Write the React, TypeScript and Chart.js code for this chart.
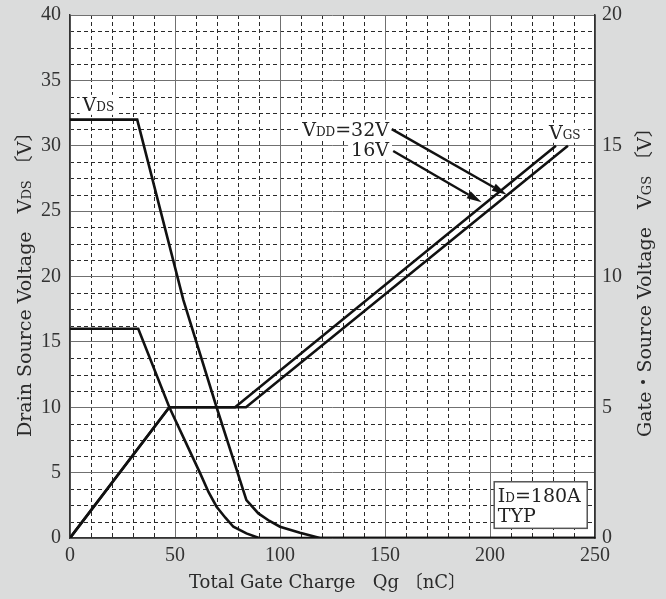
import React, { useEffect, useRef } from "react";
import { Chart, registerables } from "chart.js";
Chart.register(...registerables);

// ---- axes ----
const X_MIN = 0, X_MAX = 250, X_STEP = 50, X_MINOR = 10;
const Y_MIN = 0, Y_MAX = 40, Y_STEP = 5, Y_MINOR = 1.25;
const Y2_MIN = 0, Y2_MAX = 20, Y2_STEP = 5;

// ---- series (Qg in nC) ----
const qVds32 = [0, 32, 54, 69.8, 84, 89.7, 95, 100, 109.5, 119, 250];
const vVds32 = [32, 32, 18.2, 10, 2.9, 1.88, 1.3, 0.86, 0.4, 0, 0];
const qVds16 = [0, 32.5, 47.3, 55, 62, 66, 69.8, 74, 77.8, 84, 90, 250];
const vVds16 = [16, 16, 10, 7.35, 4.94, 3.5, 2.39, 1.55, 0.86, 0.35, 0, 0];
const qVgs16 = [0, 47.3, 78.6, 231.4];
const vVgs16 = [0, 5, 5, 15];
const qVgs32 = [0, 47.3, 83.8, 237.1];
const vVgs32 = [0, 5, 5, 15];

// ---- annotations (data units on left axis) ----
const labelVds = { q: 6, v: 32.67 };
const labelVgs = { q: 228.1, v: 30.53 };
const labelVdd32 = { q: 151.9, v: 30.76 };
const labelVdd16 = { q: 151.9, v: 29.24 };
const arrow32 = { q0: 153.2, v0: 31.27, q1: 208, v1: 26.26 };
const arrow16 = { q0: 153.9, v0: 29.6, q1: 196, v1: 25.67 };
const condBox = { q0: 202, v0: 4.3, q1: 246.3, v1: 0.74 };
const condLine1 = { q: 203.7, v: 2.72 };
const condLine2 = { q: 203.7, v: 1.24 };

const SERIF = '"DejaVu Serif", "Noto Sans CJK JP", serif';
const BIG = `19px ${SERIF}`;
const SMALL = `12px ${SERIF}`;

type Run = { t: string; f: string };

function runsWidth(ctx: CanvasRenderingContext2D, runs: Run[]) {
  let w = 0;
  for (const r of runs) { ctx.font = r.f; w += ctx.measureText(r.t).width; }
  return w;
}
function drawRuns(ctx: CanvasRenderingContext2D, runs: Run[], x: number, y: number) {
  let cx = x;
  for (const r of runs) {
    ctx.font = r.f;
    ctx.fillText(r.t, cx, y);
    cx += ctx.measureText(r.t).width;
  }
}

const bgPlugin = {
  id: "bgPlugin",
  beforeDraw(chart: any) {
    const { ctx, chartArea: a, scales } = chart;
    ctx.save();
    ctx.fillStyle = "#dbdcdc";
    ctx.fillRect(0, 0, chart.width, chart.height);
    ctx.fillStyle = "#ffffff";
    ctx.fillRect(a.left, a.top, a.right - a.left, a.bottom - a.top);
    ctx.strokeStyle = "#2a2a2a";
    ctx.lineWidth = 1;
    ctx.setLineDash([4, 3]);
    for (let v = X_MIN + X_MINOR; v < X_MAX; v += X_MINOR) {
      if (Math.abs(v / X_STEP - Math.round(v / X_STEP)) < 1e-6) continue;
      const p = Math.round(scales.x.getPixelForValue(v)) + 0.5;
      ctx.beginPath(); ctx.moveTo(p, a.top); ctx.lineTo(p, a.bottom); ctx.stroke();
    }
    for (let v = Y_MIN + Y_MINOR; v < Y_MAX; v += Y_MINOR) {
      if (Math.abs(v / Y_STEP - Math.round(v / Y_STEP)) < 1e-6) continue;
      const p = Math.round(scales.y.getPixelForValue(v)) + 0.5;
      ctx.beginPath(); ctx.moveTo(a.left, p); ctx.lineTo(a.right, p); ctx.stroke();
    }
    ctx.restore();
  },
};

const annoPlugin = {
  id: "annoPlugin",
  afterDatasetsDraw(chart: any) {
    const { ctx, scales } = chart;
    const X = (q: number) => scales.x.getPixelForValue(q);
    const Y = (v: number) => scales.y.getPixelForValue(v);
    ctx.save();
    ctx.textBaseline = "alphabetic";

    const label = (runs: Run[], x: number, y: number, right = false) => {
      const w = runsWidth(ctx, runs);
      const sx = right ? x - w : x;
      ctx.fillStyle = "#ffffff";
      ctx.fillRect(sx - 3, y - 16, w + 6, 20);
      ctx.fillStyle = "#222";
      drawRuns(ctx, runs, sx, y);
    };

    label([{ t: "V", f: BIG }, { t: "DS", f: SMALL }], X(labelVds.q), Y(labelVds.v));
    label([{ t: "V", f: BIG }, { t: "GS", f: SMALL }], X(labelVgs.q), Y(labelVgs.v));
    label([{ t: "V", f: BIG }, { t: "DD", f: SMALL }, { t: "=32V", f: BIG }], X(labelVdd32.q), Y(labelVdd32.v), true);
    label([{ t: "16V", f: BIG }], X(labelVdd16.q), Y(labelVdd16.v), true);

    const arrow = (a: any) => {
      const x0 = X(a.q0), y0 = Y(a.v0), x1 = X(a.q1), y1 = Y(a.v1);
      const ang = Math.atan2(y1 - y0, x1 - x0);
      const hl = 15, hw = 4;
      const bx = x1 - hl * Math.cos(ang), by = y1 - hl * Math.sin(ang);
      ctx.strokeStyle = "#111";
      ctx.lineWidth = 2.4;
      ctx.beginPath(); ctx.moveTo(x0, y0); ctx.lineTo(bx, by); ctx.stroke();
      ctx.fillStyle = "#111";
      ctx.beginPath();
      ctx.moveTo(x1, y1);
      ctx.lineTo(bx + hw * Math.sin(ang), by - hw * Math.cos(ang));
      ctx.lineTo(bx - hw * Math.sin(ang), by + hw * Math.cos(ang));
      ctx.closePath(); ctx.fill();
    };
    arrow(arrow32);
    arrow(arrow16);

    // condition box
    const bx0 = X(condBox.q0), by0 = Y(condBox.v0), bx1 = X(condBox.q1), by1 = Y(condBox.v1);
    ctx.fillStyle = "#ffffff";
    ctx.fillRect(bx0, by0, bx1 - bx0, by1 - by0);
    ctx.strokeStyle = "#555";
    ctx.lineWidth = 1.5;
    ctx.strokeRect(bx0, by0, bx1 - bx0, by1 - by0);
    ctx.fillStyle = "#222";
    drawRuns(ctx, [{ t: "I", f: BIG }, { t: "D", f: SMALL }, { t: "=180A", f: BIG }], X(condLine1.q), Y(condLine1.v));
    drawRuns(ctx, [{ t: "TYP", f: BIG }], X(condLine2.q), Y(condLine2.v));
    ctx.restore();
  },
  afterDraw(chart: any) {
    const { ctx, chartArea: a } = chart;
    ctx.save();
    ctx.fillStyle = "#2a2a2a";
    ctx.textBaseline = "alphabetic";
    const T = `18px ${SERIF}`;
    // bottom title
    const bottom: Run[] = [{ t: "Total Gate Charge", f: T }, { t: "   Qg ", f: T }, { t: "〔nC〕", f: T }];
    const bw = runsWidth(ctx, bottom);
    drawRuns(ctx, bottom, (a.left + a.right) / 2 - bw / 2 - 5, 588);
    // left title
    const TV = `19px ${SERIF}`;
    const TS = `13px ${SERIF}`;
    const left: Run[] = [{ t: "Drain Source Voltage   V", f: TV }, { t: "DS", f: TS }, { t: " 〔V〕", f: TV }];
    ctx.save();
    ctx.translate(31, 437);
    ctx.rotate(-Math.PI / 2);
    drawRuns(ctx, left, 0, 0);
    ctx.restore();
    const right: Run[] = [{ t: "Gate・Source Voltage   V", f: TV }, { t: "GS", f: TS }, { t: " 〔V〕", f: TV }];
    ctx.save();
    ctx.translate(651, 437);
    ctx.rotate(-Math.PI / 2);
    drawRuns(ctx, right, 0, 0);
    ctx.restore();
    ctx.restore();
  },
};

function pts(q: number[], v: number[]) {
  return q.map((x, i) => ({ x, y: v[i] }));
}

export default function App() {
  const ref = useRef<HTMLCanvasElement | null>(null);
  useEffect(() => {
    if (!ref.current) return;
    const line = { borderColor: "#111", borderWidth: 2.6, pointRadius: 0, fill: false, tension: 0 };
    const tickFont = { family: '"Liberation Serif", serif', size: 20 };
    const chart = new Chart(ref.current, {
      type: "line",
      data: {
        datasets: [
          { label: "VDS 32V", data: pts(qVds32, vVds32), yAxisID: "y", ...line },
          { label: "VDS 16V", data: pts(qVds16, vVds16), yAxisID: "y", ...line },
          { label: "VGS 16V", data: pts(qVgs16, vVgs16), yAxisID: "y2", ...line },
          { label: "VGS 32V", data: pts(qVgs32, vVgs32), yAxisID: "y2", ...line },
        ],
      },
      options: {
        animation: false,
        responsive: false,
        layout: { padding: { top: 15, left: 0, right: 0, bottom: 0 } },
        plugins: { legend: { display: false }, tooltip: { enabled: false } },
        scales: {
          x: {
            type: "linear", min: X_MIN, max: X_MAX,
            ticks: { stepSize: X_STEP, font: tickFont, color: "#333", padding: 6 },
            grid: { color: "#707070", lineWidth: 1, drawTicks: false },
            border: { color: "#333", width: 1.5 },
            afterFit: (s: any) => { s.height = 61; s.paddingLeft = 0; s.paddingRight = 0; },
          },
          y: {
            type: "linear", position: "left", min: Y_MIN, max: Y_MAX,
            ticks: { stepSize: Y_STEP, font: tickFont, color: "#333", padding: 9 },
            grid: { color: "#707070", lineWidth: 1, drawTicks: false },
            border: { color: "#333", width: 1.5 },
            afterFit: (s: any) => { s.width = 70; s.paddingTop = 0; s.paddingBottom = 0; },
          },
          y2: {
            type: "linear", position: "right", min: Y2_MIN, max: Y2_MAX,
            ticks: { stepSize: Y2_STEP, font: tickFont, color: "#333", padding: 7 },
            grid: { drawOnChartArea: false, drawTicks: false },
            border: { color: "#333", width: 1.5 },
            afterFit: (s: any) => { s.width = 71; s.paddingTop = 0; s.paddingBottom = 0; },
          },
        },
      } as any,
      plugins: [bgPlugin, annoPlugin],
    });
    return () => chart.destroy();
  }, []);
  return (
    <div style={{ position: "absolute", left: 0, top: 0, width: 666, height: 599, background: "#dbdcdc" }}>
      <canvas ref={ref} width={666} height={599} style={{ display: "block", width: 666, height: 599 }} />
    </div>
  );
}
